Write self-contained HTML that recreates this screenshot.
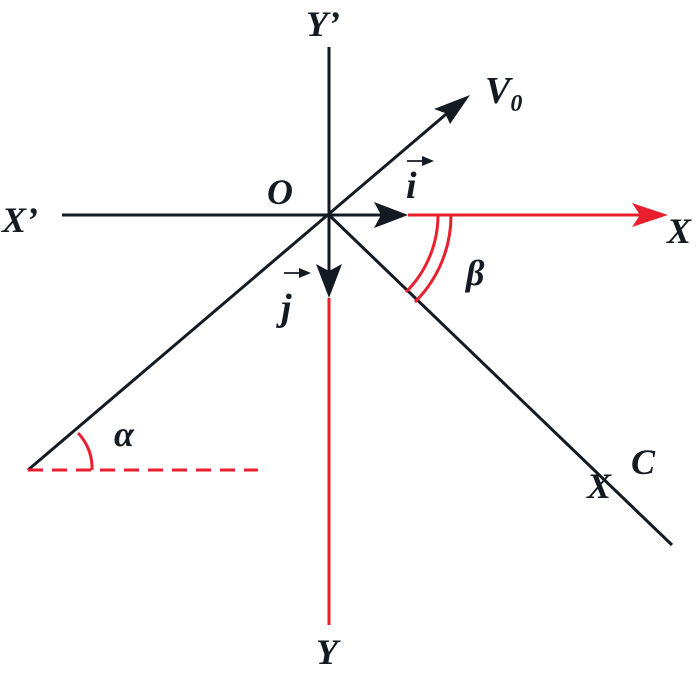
<!DOCTYPE html>
<html><head><meta charset="utf-8"><style>
html,body{margin:0;padding:0;background:#fff;}
svg{display:block}
text{font-family:"Liberation Serif",serif;font-weight:bold;font-style:italic;fill:#141a22}
</style></head><body>
<svg width="700" height="676" viewBox="0 0 700 676" xmlns="http://www.w3.org/2000/svg">
<g stroke="#141a22" stroke-width="3" fill="none">
<line x1="329" y1="47" x2="329" y2="290"/>
<line x1="62" y1="215" x2="395" y2="215"/>
<line x1="28" y1="470" x2="458" y2="104"/>
<line x1="329" y1="215" x2="672" y2="545"/>
</g>
<g stroke="#e8202e" stroke-width="3" fill="none">
<line x1="408" y1="215" x2="650" y2="215"/>
<line x1="329" y1="298" x2="329" y2="625"/>
<line x1="28" y1="470" x2="258" y2="470" stroke-dasharray="15,9"/>
<path d="M78,433 A50,50 0 0 1 92,470"/>
<path d="M438,215 A109,109 0 0 1 406,292"/>
<path d="M451,215 A122,122 0 0 1 415,302"/>
</g>
<polygon points="668,215 632,203 640,215 632,227" fill="#e8202e"/>
<polygon points="408,215 374,202 381,215 374,228" fill="#141a22"/>
<polygon points="329,298 316,264 329,271 342,264" fill="#141a22"/>
<polygon points="470,95 434,109 445,113 450,124" fill="#141a22"/>
<g fill="#141a22">
<polygon points="434,161 422,156 422,166"/>
<polygon points="311,273 299,268 299,278"/>
</g>
<g stroke="#141a22" stroke-width="1.8">
<line x1="407" y1="161" x2="427" y2="161"/>
<line x1="284" y1="273" x2="304" y2="273"/>
</g>
<text x="306" y="36" font-size="36">Y’</text>
<text x="485" y="103" font-size="38">V<tspan font-size="24" dy="8">0</tspan></text>
<text x="267" y="204" font-size="36">O</text>
<text x="406" y="198" font-size="38">i</text>
<text x="2" y="232" font-size="36">X’</text>
<text x="667" y="243" font-size="36">X</text>
<text x="281" y="320" font-size="38">j</text>
<text x="466" y="285" font-size="36">β</text>
<text x="114" y="446" font-size="36">α</text>
<text x="631" y="474" font-size="36">C</text>
<text x="587" y="498" font-size="36">X</text>
<text x="316" y="664" font-size="36">Y</text>
</svg>
</body></html>
